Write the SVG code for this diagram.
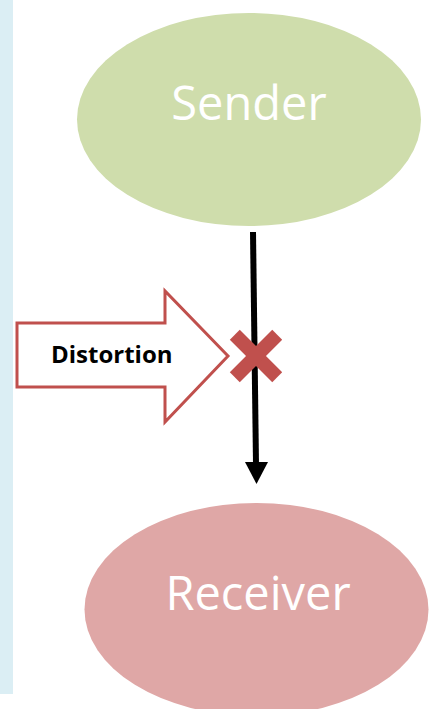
<svg xmlns="http://www.w3.org/2000/svg" width="436" height="709" viewBox="0 0 436 709">
<defs>
<style>
.node-text{font-family:"Open Sans","Noto Sans",sans-serif;fill:#ffffff;text-anchor:middle}
.label{font-family:"Open Sans","Noto Sans",sans-serif;font-weight:bold;fill:#000000;font-size:24px}
</style>
</defs>
<rect x="0" y="0" width="436" height="709" fill="#ffffff"/>
<rect x="0" y="0" width="13" height="694" fill="#dbeef4"/>
<g id="sender">
<ellipse cx="249" cy="119.5" rx="172" ry="106.5" fill="#cfddac"/>
<text class="node-text" x="249" y="120" font-size="47">Sender</text>
</g>
<g id="receiver">
<ellipse cx="256.5" cy="609.5" rx="172" ry="106.5" fill="#dfa7a6"/>
<text class="node-text" x="258" y="610" font-size="47">Receiver</text>
</g>
<g id="connectors">
<line x1="253" y1="232" x2="256" y2="464" stroke="#000" stroke-width="6"/>
<path d="M245,462 L268,462 L256.5,484 Z" fill="#000"/>
</g>
<g id="distortion">
<path d="M17,323 L165,323 L165,291 L228,356 L165,422 L165,387 L17,387 Z" fill="#fff" stroke="#c0504d" stroke-width="3" stroke-linejoin="miter"/>
<text class="label" x="51" y="363">Distortion</text>
</g>
<g id="cross" fill="#c0504d" transform="translate(256,356) rotate(45)">
<rect x="-30" y="-7" width="60" height="14"/>
<rect x="-7" y="-30" width="14" height="60"/>
</g>
</svg>
